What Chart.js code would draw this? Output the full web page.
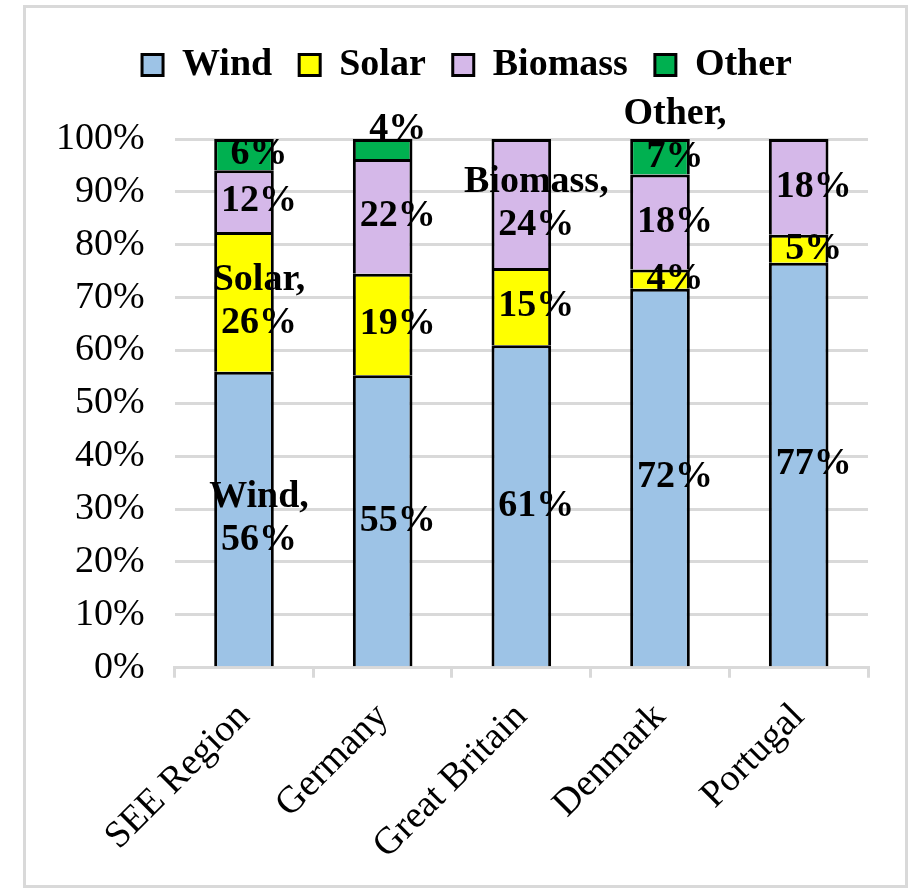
<!DOCTYPE html>
<html>
<head>
<meta charset="utf-8">
<script src="https://cdn.jsdelivr.net/npm/chart.js@4/dist/chart.umd.min.js"></script>
<style>
    html, body { margin: 0; padding: 0; background: #fff; }
    #frame {
        position: absolute;
        left: 23px;
        top: 5px;
        width: 885px;
        height: 883px;
        border: 3px solid #d9d9d9;
        box-sizing: border-box;
    }
    #chart { display: block; }
</style>
</head>
<body>
<div id="frame"><canvas id="chart" width="879" height="877"></canvas></div>
<script>
// Share of renewable generation by source (%)
const categories = ['SEE Region', 'Germany', 'Great Britain', 'Denmark', 'Portugal'];
const seriesNames = ['Wind', 'Solar', 'Biomass', 'Other'];
const wind = [56.0, 55.3, 61.0, 71.7, 76.6];
const solar = [26.4, 19.2, 14.6, 3.6, 5.3];
const biomass = [11.7, 21.7, 24.4, 18.0, 18.1];
const other = [5.9, 3.8, 0, 6.7, 0];
const yTicks = [0, 10, 20, 30, 40, 50, 60, 70, 80, 90, 100];
// labels that also carry the series name: [series, category]
const namedLabels = [[0, 0], [1, 0], [2, 2], [3, 3]];

const fontFamily = '"Liberation Serif", "Times New Roman", serif';
const colors = ['#9dc3e6', '#ffff00', '#d5b8e9', '#00b050'];

// Draw the value labels inside each segment
const segmentLabels = {
    id: 'segmentLabels',
    afterDatasetsDraw(chart) {
        const ctx = chart.ctx;
        const lineHeight = 43;
        ctx.save();
        ctx.font = 'bold 38px ' + fontFamily;
        ctx.fillStyle = '#000';
        ctx.textAlign = 'center';
        ctx.textBaseline = 'middle';
        chart.data.datasets.forEach((ds, si) => {
            const meta = chart.getDatasetMeta(si);
            meta.data.forEach((bar, ci) => {
                const v = ds.data[ci];
                if (!v) return;
                const lines = [];
                const named = namedLabels.some(p => p[0] === si && p[1] === ci);
                if (named) lines.push(seriesNames[si] + ',');
                lines.push(Math.round(v) + '%');
                const x = bar.x + 15;
                let cy = (bar.y + bar.base) / 2;
                // small manual nudges, as in the original
                if (si === 3 && ci === 1) cy -= 20;
                if (si === 3 && ci === 3) cy -= lineHeight / 2;
                const top = cy - (lines.length - 1) * lineHeight / 2;
                lines.forEach((t, i) => ctx.fillText(t, x, top + i * lineHeight));
            });
        });
        ctx.restore();
    }
};

// Extra room under the legend, and shift it a bit to the right
const legendSpace = {
    id: 'legendSpace',
    beforeInit(chart) {
        const fit = chart.legend.fit;
        chart.legend.fit = function () {
            fit.call(this);
            this.height += 45;
        };
    },
    afterLayout(chart) {
        chart.legend.left += 20;
        chart.legend.right += 20;
    }
};

const series = [wind, solar, biomass, other];

new Chart(document.getElementById('chart'), {
    type: 'bar',
    data: {
        labels: categories,
        datasets: series.map((d, i) => ({
            label: seriesNames[i],
            data: d,
            backgroundColor: colors[i],
            borderColor: '#000',
            borderWidth: 3,
            barPercentage: 0.43,
            categoryPercentage: 1
        }))
    },
    options: {
        responsive: false,
        animation: false,
        layout: {
            padding: { left: 0, right: 37, top: 11, bottom: 0 }
        },
        plugins: {
            legend: {
                position: 'top',
                labels: {
                    font: { family: fontFamily, size: 38, weight: 'bold' },
                    color: '#000',
                    boxWidth: 21,
                    boxHeight: 21,
                    padding: 27
                }
            },
            tooltip: { enabled: false }
        },
        scales: {
            x: {
                stacked: true,
                grid: {
                    offset: true,
                    drawOnChartArea: false,
                    drawTicks: true,
                    tickLength: 10,
                    color: '#d9d9d9',
                    lineWidth: 3
                },
                border: { color: '#d9d9d9', width: 3 },
                ticks: {
                    font: { family: fontFamily, size: 38 },
                    color: '#000',
                    minRotation: 45,
                    maxRotation: 45,
                    padding: 17
                }
            },
            y: {
                stacked: true,
                min: 0,
                max: 100,
                afterBuildTicks: axis => { axis.ticks = yTicks.map(v => ({ value: v })); },
                grid: {
                    color: '#d9d9d9',
                    lineWidth: 3,
                    drawTicks: false
                },
                border: { display: false },
                ticks: {
                    font: { family: fontFamily, size: 38 },
                    color: '#000',
                    padding: 30,
                    callback: v => v + '%'
                }
            }
        }
    },
    plugins: [segmentLabels, legendSpace]
});
</script>
</body>
</html>
